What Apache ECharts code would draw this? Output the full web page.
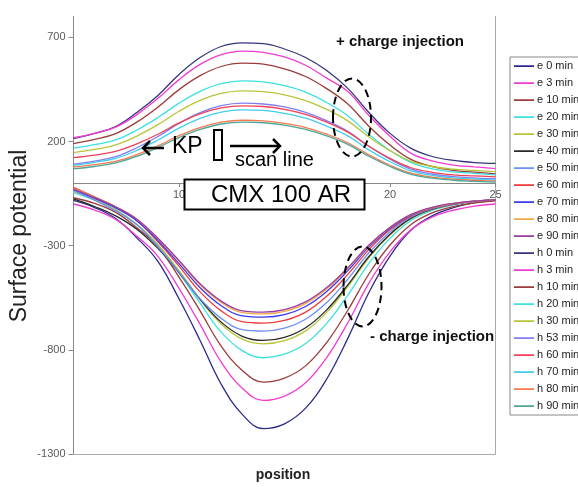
<!DOCTYPE html>
<html>
<head>
<meta charset="utf-8">
<script src="https://cdn.jsdelivr.net/npm/echarts@6/dist/echarts.min.js"></script>
<style>
html,body{margin:0;padding:0;background:#fff;}
#chart{width:578px;height:487px;}
</style>
</head>
<body>
<div id="chart"></div>
<script>
// ---- data ----
const positions = [5,6,7,8,9,10,11,12,13,14,15,16,17,18,19,20,21,22,23,24,25];

const seriesNames = ['e 0 min','e 3 min','e 10 min','e 20 min','e 30 min','e 40 min','e 50 min','e 60 min','e 70 min','e 80 min','e 90 min',
                     'h 0 min','h 3 min','h 10 min','h 20 min','h 30 min','h 53 min','h 60 min','h 70 min','h 80 min','h 90 min'];

// negative charge injection (trough)
const e0  = [-83,-117,-170,-262,-375,-555,-755,-965,-1110,-1178,-1155,-1080,-940,-745,-525,-350,-225,-157,-118,-95,-83];
const e3  = [-100,-129,-174,-254,-351,-505,-678,-859,-984,-1043,-1022,-958,-837,-670,-480,-330,-223,-163,-130,-110,-100];
const e10 = [-70,-97,-140,-214,-305,-451,-613,-782,-899,-955,-936,-877,-765,-610,-436,-297,-198,-143,-113,-95,-85];
const e20 = [-45,-81,-127,-199,-295,-430,-576,-715,-804,-838,-821,-770,-673,-538,-385,-265,-179,-131,-104,-88,-80];
const e30 = [-40,-80,-128,-197,-296,-420,-559,-676,-749,-771,-756,-709,-620,-497,-358,-249,-170,-126,-102,-88,-80];
const e40 = [-75,-112,-157,-221,-313,-429,-558,-667,-735,-755,-740,-694,-608,-488,-352,-245,-168,-125,-102,-87,-80];
const e50 = [-35,-82,-134,-200,-305,-427,-555,-649,-703,-710,-696,-653,-573,-461,-334,-234,-162,-122,-100,-87,-80];
const e60 = [-20,-66,-115,-180,-281,-398,-522,-613,-665,-672,-659,-619,-543,-438,-319,-224,-157,-120,-99,-87,-80];
const e70 = [-30,-73,-119,-180,-275,-386,-502,-588,-637,-643,-631,-592,-520,-420,-307,-217,-153,-118,-98,-86,-80];
const e80 = [-25,-67,-113,-172,-266,-374,-489,-573,-621,-627,-615,-578,-508,-410,-300,-213,-151,-117,-98,-86,-80];
const e90 = [-28,-69,-114,-173,-264,-371,-483,-566,-613,-619,-607,-570,-501,-406,-297,-212,-150,-116,-97,-86,-80];

// positive charge injection (bump)
const h0  = [214,239,272,339,421,522,603,656,673,670,644,603,541,455,339,239,167,128,109,99,95];
const h3  = [218,239,269,329,407,497,570,617,634,628,606,566,504,440,325,225,143,107,87,78,70];
const h10 = [190,210,238,293,365,449,516,560,576,571,549,512,454,380,273,183,114,80,61,53,45];
const h20 = [168,185,208,255,315,384,441,478,491,486,468,437,387,324,234,157,99,69,54,47,40];
const h30 = [147,162,184,226,281,345,397,431,443,439,424,396,354,299,222,156,105,80,67,61,55];
const h53 = [91,106,127,170,224,287,339,372,384,380,366,340,300,249,177,115,67,44,31,25,20];
const h60 = [123,135,153,189,235,289,333,361,371,368,354,330,293,245,177,119,74,52,40,35,30];
const h70 = [86,100,119,157,207,264,311,341,352,349,335,312,274,227,160,103,59,37,25,20,15];
const h80 = [77,89,105,137,179,228,267,293,302,299,287,267,235,194,136,86,48,29,19,14,10];
const h90 = [69,80,97,129,171,219,258,284,293,290,279,258,227,186,129,80,42,24,14,9,5];

const seriesValues = [e0,e3,e10,e20,e30,e40,e50,e60,e70,e80,e90,h0,h3,h10,h20,h30,h53,h60,h70,h80,h90];

const yTicksMin = -1300, yTicksMax = 800, yTickStep = 500;
const xMin = 5, xMax = 25, xStep = 5;

const colors = ['#2B2B8C','#F03CD2','#9B3B3B','#3DE0E0','#B8C43A','#2A2A2A','#6E8FF5','#F03A3A','#3A3AF0','#F5A848','#9A3CA6',
                '#35357A','#F03CD2','#9B3B3B','#3DE0E0','#B8C43A','#7F7FEE','#F0405A','#45CDEB','#F57A50','#4FA596'];

const FONT = 'Arial, "Liberation Sans", sans-serif';

const W = 578, H = 487;
const gridPos = {left: 73.5, right: 82.5, top: 16.5, bottom: 33};
// move the x axis up so it crosses the value axis at 0
const gridH = H - gridPos.top - gridPos.bottom;
const zeroOffset = -gridH * (0 - yTicksMin) / (yTicksMax - yTicksMin);

const chart = echarts.init(document.getElementById('chart'), null, {renderer: 'canvas', width: W, height: H});

const series = seriesNames.map((name, k) => ({
  name: name,
  type: 'line',
  data: positions.map((x, i) => [x, seriesValues[k][i]]),
  symbol: 'none',
  showSymbol: false,
  smooth: 0.4,
  lineStyle: {width: 1.3, color: colors[k]},
  itemStyle: {color: colors[k]},
  emphasis: {disabled: true},
  animation: false
}));

// bottom border of the plot area, drawn through the value axis
series[0].markLine = {
  silent: true, symbol: 'none', animation: false,
  label: {show: false},
  lineStyle: {color: '#aaa', width: 1, type: 'solid'},
  emphasis: {disabled: true},
  data: [{yAxis: yTicksMin}]
};

const option = {
  animation: false,
  backgroundColor: '#fff',
  textStyle: {fontFamily: FONT},
  grid: Object.assign({containLabel: false, outerBoundsMode: 'none'}, gridPos),
  legend: {
    data: seriesNames,
    orient: 'vertical',
    left: 510, top: 57,
    itemWidth: 20, itemHeight: 12, itemGap: 5,
    icon: 'path://M0,0L0.01,0L0.01,0.01L0,0.01Z M0,5.3L20,5.3L20,6.9L0,6.9Z M0,11.99L0.01,11.99L0.01,12L0,12Z',
    padding: [3, 6, 3, 4],
    borderColor: '#888', borderWidth: 1,
    backgroundColor: '#fff',
    textStyle: {fontSize: 11, color: '#222', fontFamily: FONT, padding: [0,0,0,-2]},
    selectedMode: false
  },
  xAxis: [{
    type: 'value', min: xMin, max: xMax, interval: xStep,
    position: 'bottom', offset: zeroOffset,
    axisLine: {show: true, onZero: false, lineStyle: {color: '#888', width: 1}},
    axisTick: {show: true, length: 4, lineStyle: {color: '#888'}},
    axisLabel: {color: '#595959', fontSize: 11, fontFamily: FONT, margin: 6,
      formatter: v => (v === xMin ? '' : String(v))},
    splitLine: {show: false}
  }],
  yAxis: [{
    type: 'value', min: yTicksMin, max: yTicksMax, interval: yTickStep,
    axisLine: {show: true, onZero: false, lineStyle: {color: '#888', width: 1}},
    axisTick: {show: true, length: 5, lineStyle: {color: '#888'}},
    axisLabel: {color: '#595959', fontSize: 11, fontFamily: FONT, margin: 8, showMaxLabel: false,
      formatter: v => (v === yTicksMax ? '' : String(v))},
    splitLine: {show: false}
  }, {
    type: 'value', min: yTicksMin, max: yTicksMax, position: 'right',
    axisLine: {show: true, onZero: false, lineStyle: {color: '#aaa', width: 1}},
    axisTick: {show: false}, axisLabel: {show: false}, splitLine: {show: false}
  }],
  series: series,
  graphic: [
    {type: 'text', x: 20, y: 236, rotation: Math.PI / 2, z: 100,
     style: {text: 'Surface potential', font: '23px ' + FONT, fill: '#222', align: 'center', verticalAlign: 'middle'}},
    {type: 'text', x: 283, y: 475, z: 100,
     style: {text: 'position', font: 'bold 14px ' + FONT, fill: '#222', align: 'center', verticalAlign: 'middle'}},
    {type: 'text', x: 336, y: 42, z: 100,
     style: {text: '+ charge injection', font: 'bold 15px ' + FONT, fill: '#111', align: 'left', verticalAlign: 'middle'}},
    {type: 'text', x: 370, y: 337, z: 100,
     style: {text: '- charge injection', font: 'bold 15px ' + FONT, fill: '#111', align: 'left', verticalAlign: 'middle'}},
    {type: 'rect', z: 100, shape: {x: 184.5, y: 179.5, width: 180, height: 30},
     style: {fill: '#fff', stroke: '#000', lineWidth: 2}},
    {type: 'text', x: 281, y: 195, z: 101,
     style: {text: 'CMX 100 AR', font: '24px ' + FONT, fill: '#000', align: 'center', verticalAlign: 'middle'}},
    {type: 'text', x: 172, y: 147, z: 100,
     style: {text: 'KP', font: '23px ' + FONT, fill: '#000', align: 'left', verticalAlign: 'middle'}},
    {type: 'polyline', z: 100, shape: {points: [[143, 148], [164, 148]]},
     style: {stroke: '#000', lineWidth: 2.5, fill: null}},
    {type: 'polyline', z: 100, shape: {points: [[150, 141], [143, 148], [150, 155]]},
     style: {stroke: '#000', lineWidth: 2.5, fill: null}},
    {type: 'rect', z: 100, shape: {x: 214, y: 130, width: 8, height: 30},
     style: {fill: 'none', stroke: '#000', lineWidth: 2}},
    {type: 'polyline', z: 100, shape: {points: [[230, 146], [280, 146]]},
     style: {stroke: '#000', lineWidth: 2.5, fill: null}},
    {type: 'polyline', z: 100, shape: {points: [[273, 139], [280, 146], [273, 153]]},
     style: {stroke: '#000', lineWidth: 2.5, fill: null}},
    {type: 'text', x: 235, y: 160, z: 100,
     style: {text: 'scan line', font: '20px ' + FONT, fill: '#000', align: 'left', verticalAlign: 'middle'}},
    {type: 'ellipse', z: 100, shape: {cx: 352, cy: 117.5, rx: 19, ry: 39},
     style: {fill: 'none', stroke: '#000', lineWidth: 2, lineDash: [8, 5]}},
    {type: 'ellipse', z: 100, shape: {cx: 362.5, cy: 286.5, rx: 19, ry: 40},
     style: {fill: 'none', stroke: '#000', lineWidth: 2, lineDash: [8, 5]}}
  ]
};

chart.setOption(option);
</script>
</body>
</html>
